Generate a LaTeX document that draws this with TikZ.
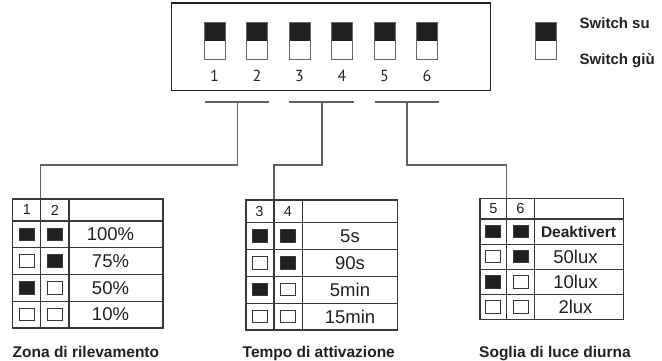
\documentclass[tikz,border=0pt]{standalone}
\usepackage{fontspec}
\setmainfont{Liberation Sans}
\newfontfamily\numfont{PT Sans}
\definecolor{ink}{HTML}{231F20}
\begin{document}
\begin{tikzpicture}[x=1pt,y=-1pt,
  tab/.style={draw=black!78, line width=1.1pt},
  conn/.style={draw=black!62, line width=1.2pt},
  frame/.style={draw=ink, line width=1.3pt},
  dip/.style={draw=black!60, line width=1pt, minimum width=21pt, minimum height=36.5pt, inner sep=0pt,
    path picture={\fill[ink] (path picture bounding box.north west) rectangle (path picture bounding box.east);}},
  sq/.style={draw=black!78, line width=0.9pt, minimum width=15pt, minimum height=12.5pt, inner sep=0pt},
  val/.style={font=\fontsize{18.5}{18.5}\selectfont, text=ink, inner sep=0pt},
  valb/.style={font=\bfseries\fontsize{15.5}{15.5}\selectfont, text=ink, inner sep=0pt},
  hdr/.style={font=\fontsize{14.5}{14.5}\selectfont, text=ink, inner sep=0pt},
  dipnum/.style={font=\numfont\fontsize{16}{16}\selectfont, text=black!85, inner sep=0pt, anchor=base},
  ttl/.style={font=\bfseries\fontsize{15.5}{15.5}\selectfont, text=ink, anchor=base west, inner sep=0pt},
  leg/.style={font=\bfseries\fontsize{15}{15}\selectfont, text=ink, anchor=base west, inner sep=0pt}]
\useasboundingbox (0,0) rectangle (662,361);

% DIP switch housing
\node[frame, minimum width=319pt, minimum height=87.7pt, inner sep=0pt] (box) at (331.1,46.85) {};
\foreach \i in {1,...,6} {
  \node[dip] (sw\i) at ({214.5+42.5*(\i-1)},41) {};
  \node[dipnum] (n\i) at ({214.5+42.5*(\i-1)},82) {\i};
}

% legend
\node[dip] (legsw) at (546.2,41) {};
\node[leg] (legup) at (579.5,29) {Switch su};
\node[leg] (legdown) at (579.5,65) {Switch giù};

% bars under the switches
\coordinate (b1l) at (205,102); \coordinate (b1r) at (269,102); \coordinate (b1m) at (237.5,102);
\coordinate (b2l) at (289,102); \coordinate (b2r) at (354,102); \coordinate (b2m) at (322,102);
\coordinate (b3l) at (375,102); \coordinate (b3r) at (439,102); \coordinate (b3m) at (407,102);
\draw[conn] (b1l) -- (b1r);
\draw[conn] (b2l) -- (b2r);
\draw[conn] (b3l) -- (b3r);

% table tops where connectors arrive
\coordinate (t1top) at (40.7,199);
\coordinate (t2top) at (274,200);
\coordinate (t3top) at (506.7,198.3);

\draw[conn] (b1m) -- ++(0,63) -| (t1top);
\draw[conn] (b2m) -- ++(0,63) -| (t2top);
\draw[conn] (b3m) -- ++(0,63) -| (t3top);

% ---------- table 1 ----------
\draw[tab] (12.7,199) rectangle (163,328);
\draw[tab] (40.7,199) -- (40.7,328);
\draw[tab] (69,199) -- (69,328);
\foreach \y in {221,247.75,274.5,301.25} \draw[tab] (12.7,\y) -- (163,\y);
\node[hdr] (t1h1) at (27,210) {1};
\node[hdr] (t1h2) at (54.8,210) {2};
\foreach \y/\fa/\fb/\v [count=\k] in {234.4/ink/ink/100\%, 261.1/white/ink/75\%, 287.9/ink/white/50\%, 314.6/white/white/10\%} {
  \node[sq, fill=\fa] (t1a\k) at (26.5,\y) {};
  \node[sq, fill=\fb] (t1b\k) at (54.5,\y) {};
  \node[val] (t1v\k) at (110.5,\y) {\v};
}
\node[ttl] (t1t) at (12.5,357) {Zona di rilevamento};

% ---------- table 2 ----------
\draw[tab] (246,200) rectangle (397.7,330);
\draw[tab] (274,200) -- (274,330);
\draw[tab] (302.7,200) -- (302.7,330);
\foreach \y in {222.3,249.2,276.2,303.1} \draw[tab] (246,\y) -- (397.7,\y);
\node[hdr] (t2h1) at (259.5,211.2) {3};
\node[hdr] (t2h2) at (288,211.2) {4};
\foreach \y/\fa/\fb/\v [count=\k] in {235.8/ink/ink/5s, 262.7/white/ink/90s, 289.6/ink/white/5min, 316.5/white/white/15min} {
  \node[sq, fill=\fa] (t2a\k) at (260,\y) {};
  \node[sq, fill=\fb] (t2b\k) at (288.3,\y) {};
  \node[val] (t2v\k) at (350,\y) {\v};
}
\node[ttl] (t2t) at (242.5,357) {Tempo di attivazione};

% ---------- table 3 ----------
\draw[tab] (480,198.3) rectangle (623.3,319.3);
\draw[tab] (506.7,198.3) -- (506.7,319.3);
\draw[tab] (534.3,198.3) -- (534.3,319.3);
\foreach \y in {219,244.1,269.2,294.2} \draw[tab] (480,\y) -- (623.3,\y);
\node[hdr] (t3h1) at (493.3,208.7) {5};
\node[hdr] (t3h2) at (520.5,208.7) {6};
\node[sq, fill=ink] (t3a1) at (493,231.5) {};
\node[sq, fill=ink] (t3b1) at (520.5,231.5) {};
\node[valb] (t3v1) at (578.5,231.5) {Deaktivert};
\foreach \y/\fa/\fb/\v [count=\k from 2] in {256.6/white/ink/50lux, 281.7/ink/white/10lux, 306.8/white/white/2lux} {
  \node[sq, fill=\fa] (t3a\k) at (493,\y) {};
  \node[sq, fill=\fb] (t3b\k) at (520.5,\y) {};
  \node[val] (t3v\k) at (575.5,\y) {\v};
}
\node[ttl] (t3t) at (479,357) {Soglia di luce diurna};
\end{tikzpicture}
\end{document}
